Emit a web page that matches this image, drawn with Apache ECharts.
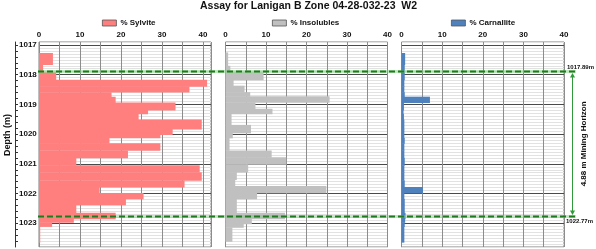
<!DOCTYPE html>
<html>
<head>
<meta charset="utf-8">
<script src="https://cdn.jsdelivr.net/npm/echarts@6/dist/echarts.min.js"></script>
<style>html,body{margin:0;padding:0;background:#fff}#main{width:596px;height:249px}</style>
</head>
<body>
<div id="main"></div>
<script>
// ---------- data ----------
const chartTitle = 'Assay for Lanigan B Zone 04-28-032-23  W2';
const seriesNames = ['% Sylvite', '% Insolubles', '% Carnallite'];
// sample interval boundaries (m) for sylvite & carnallite
const sampleDepths = [1017.27, 1017.66, 1017.92, 1018.17, 1018.39, 1018.59, 1018.74, 1018.94, 1019.19, 1019.32,
  1019.51, 1019.83, 1020.02, 1020.13, 1020.31, 1020.55, 1020.80, 1021.05, 1021.28, 1021.56,
  1021.78, 1021.98, 1022.18, 1022.38, 1022.65, 1022.85, 1022.97, 1023.11, 1023.64];
const sylvite = [3.4, 1.0, 4.2, 41.0, 36.7, 17.7, 18.7, 33.3, 26.6, 24.3,
  39.7, 32.6, 29.6, 17.2, 29.6, 21.7, 9.1, 39.2, 39.7, 35.5,
  14.8, 25.5, 21.2, 9.1, 18.7, 8.5, 3.2, 0.3];
const carnallite = [0.9, 0.8, 0.8, 0.7, 0.7, 0.8, 7.0, 0.6, 0.5, 0.6,
  0.7, 0.7, 0.7, 0.8, 0.7, 0.7, 0.8, 0.7, 0.7, 0.8,
  5.3, 0.7, 0.8, 0.8, 1.0, 0.9, 0.8, 0.7];
// interval boundaries (m) for insolubles
const insolDepths = [1017.25, 1017.70, 1017.92, 1018.17, 1018.37, 1018.59, 1018.73, 1018.93, 1019.15, 1019.32,
  1019.69, 1019.96, 1020.13, 1020.55, 1020.78, 1021.02, 1021.28, 1021.53, 1021.75, 1021.98,
  1022.18, 1022.65, 1022.85, 1023.02, 1023.14, 1023.61];
const insolubles = [0.65, 1.2, 9.4, 2.0, 4.7, 6.1, 25.7, 7.4, 11.6, 1.5,
  6.3, 1.8, 1.0, 11.4, 15.0, 5.6, 2.8, 2.4, 24.9, 7.8,
  2.8, 14.7, 6.5, 4.5, 1.7];
const depthLabels = [1017, 1018, 1019, 1020, 1021, 1022, 1023];
const depthMinorTicks = [1017.0,1017.2,1017.4,1017.6,1017.8,1018.0,1018.2,1018.4,1018.6,1018.8,1019.0,1019.2,1019.4,1019.6,1019.8,
  1020.0,1020.2,1020.4,1020.6,1020.8,1021.0,1021.2,1021.4,1021.6,1021.8,1022.0,1022.2,1022.4,1022.6,1022.8,1023.0,1023.2,1023.4,1023.6];
const horizonTop = 1017.89;
const horizonBottom = 1022.77;
const horizonLabel = '4.88 m Mining Horizon';

// ---------- layout / style ----------
const FONT = '"Liberation Sans", Arial, sans-serif';
const depthMin = 1016.9, depthMax = 1023.8;
const MINOR = '#e2e2e2', MAJOR = '#4a4a4a';
const splitColors = [MINOR, MAJOR, MINOR, MINOR, MINOR, MINOR, MINOR, MINOR, MINOR, MINOR];
const panels = [
  {left: 39, width: 172, max: 41.95},
  {left: 225.5, width: 162, max: 40},
  {left: 401.5, width: 162.5, max: 40}
];
const colors = ['#ff7f7f', '#c0c0c0', '#4f81bd'];

function rows(values, bounds) { return values.map((v, i) => [v, bounds[i], bounds[i + 1]]); }
function renderBand(params, api) {
  const a = api.coord([0, api.value(1)]);
  const b = api.coord([api.value(0), api.value(2)]);
  return {type: 'rect', shape: {x: a[0], y: a[1], width: b[0] - a[0], height: b[1] - a[1] + 0.4}, style: api.style()};
}

const chart = echarts.init(document.getElementById('main'), null, {renderer: 'canvas'});
const grids = panels.map(p => ({left: p.left, width: p.width, top: 42, height: 205, show: true,
  borderColor: '#808080', borderWidth: 1, backgroundColor: 'transparent'}));
const xAxes = panels.map((p, i) => ({
  type: 'value', gridIndex: i, position: 'top', min: 0, max: p.max, interval: 5,
  axisLine: {show: false}, axisTick: {show: false},
  axisLabel: {margin: 3, fontSize: 8, fontWeight: 'bold', color: '#111', fontFamily: FONT,
    formatter: v => (v % 10 === 0 ? String(v) : '')},
  splitLine: {show: true, lineStyle: {color: '#8c8c8c', width: 1}}
}));
const gridAxis = i => ({
  type: 'value', gridIndex: i, inverse: true, min: depthMin, max: depthMax, interval: 0.1, position: 'left',
  axisLine: {show: false}, axisTick: {show: false}, axisLabel: {show: false},
  splitLine: {show: true, lineStyle: {color: splitColors, width: 1}}
});
const yAxes = [
  gridAxis(0),
  {type: 'value', gridIndex: 0, inverse: true, min: depthMin, max: depthMax, position: 'left', offset: 24,
    axisLine: {show: true, onZero: false, lineStyle: {color: '#333', width: 1}},
    axisTick: {show: true, inside: true, length: 3, customValues: depthMinorTicks, lineStyle: {color: '#333'}},
    axisLabel: {show: true, inside: true, margin: 4, customValues: depthLabels, fontSize: 8, fontWeight: 'bold',
      color: '#111', fontFamily: FONT, formatter: v => String(Math.round(v))},
    splitLine: {show: false}},
  gridAxis(1),
  gridAxis(2)
];
const dataSets = [rows(sylvite, sampleDepths), rows(insolubles, insolDepths), rows(carnallite, sampleDepths)];
const series = dataSets.map((d, i) => ({
  type: 'custom', name: seriesNames[i], xAxisIndex: i, yAxisIndex: i === 0 ? 0 : i + 1,
  renderItem: renderBand, encode: {x: 0, y: [1, 2]}, data: d, clip: true,
  itemStyle: {color: colors[i]}
}));
const legendLefts = [102, 272, 451];
const legends = seriesNames.map((n, i) => ({
  data: [n], left: legendLefts[i], top: 19, padding: 0, itemWidth: 14, itemHeight: 6, itemGap: 0,
  icon: 'rect', selectedMode: false,
  itemStyle: {borderColor: '#555', borderWidth: 0.8},
  textStyle: {fontSize: 8, fontWeight: 'bold', color: '#111', fontFamily: FONT, padding: [0, 0, 0, -1]}
}));

chart.setOption({
  animation: false,
  backgroundColor: '#fff',
  title: {text: chartTitle, left: 200, top: 0, padding: 0,
    textStyle: {fontSize: 10.5, fontWeight: 'bold', color: '#111', fontFamily: FONT, lineHeight: 12}},
  legend: legends,
  grid: grids, xAxis: xAxes, yAxis: yAxes, series: series
});

// annotations placed through the depth scale
const yT = chart.convertToPixel({yAxisIndex: 0}, horizonTop);
const yB = chart.convertToPixel({yAxisIndex: 0}, horizonBottom);
const xL = 38, xR = 576, xA = 572.5;
const green = '#1f7a1f', arrowGreen = '#2f9a3a';
const graphics = [];
[yT, yB].forEach(y => {
  graphics.push({type: 'line', z: 50, shape: {x1: xL, y1: y, x2: xR, y2: y},
    style: {stroke: 'rgba(110,210,110,0.45)', lineWidth: 3}});
  graphics.push({type: 'line', z: 51, shape: {x1: xL, y1: y, x2: xR, y2: y},
    style: {stroke: green, lineWidth: 2, lineDash: [6, 3]}});
});
graphics.push({type: 'line', z: 52, shape: {x1: xA, y1: yT + 3, x2: xA, y2: yB - 3},
  style: {stroke: arrowGreen, lineWidth: 1}});
graphics.push({type: 'polygon', z: 52, shape: {points: [[xA, yT + 1.5], [xA - 2.5, yT + 6], [xA + 2.5, yT + 6]]},
  style: {fill: arrowGreen}});
graphics.push({type: 'polygon', z: 52, shape: {points: [[xA, yB - 1.5], [xA - 2.5, yB - 6], [xA + 2.5, yB - 6]]},
  style: {fill: arrowGreen}});
graphics.push({type: 'text', z: 53, x: 567, y: yT - 4,
  style: {text: horizonTop.toFixed(2) + 'm', fontSize: 6, fontWeight: 'bold', fill: '#111', fontFamily: FONT,
    align: 'left', verticalAlign: 'middle'}});
graphics.push({type: 'text', z: 53, x: 566, y: yB + 4.5,
  style: {text: horizonBottom.toFixed(2) + 'm', fontSize: 6, fontWeight: 'bold', fill: '#111', fontFamily: FONT,
    align: 'left', verticalAlign: 'middle'}});
graphics.push({type: 'text', z: 53, x: 584, y: (yT + yB) / 2, rotation: Math.PI / 2,
  style: {text: horizonLabel, fontSize: 8, fontWeight: 'bold', fill: '#111', fontFamily: FONT,
    align: 'center', verticalAlign: 'middle'}});
graphics.push({type: 'text', z: 53, x: 7.5, y: 135, rotation: Math.PI / 2,
  style: {text: 'Depth (m)', fontSize: 9, fontWeight: 'bold', fill: '#111', fontFamily: FONT,
    align: 'center', verticalAlign: 'middle'}});
chart.setOption({graphic: graphics});
</script>
</body>
</html>
